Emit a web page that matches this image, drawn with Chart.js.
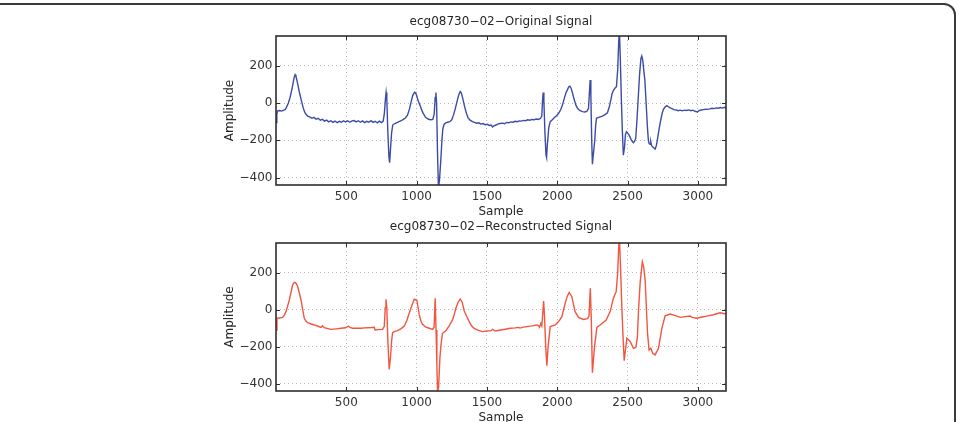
<!DOCTYPE html>
<html><head><meta charset="utf-8">
<script src="https://cdn.jsdelivr.net/npm/chart.js@4.4.0/dist/chart.umd.min.js"></script>
<style>
html,body{margin:0;padding:0;width:959px;height:422px;overflow:hidden;background:#fff;position:relative}
#frame{position:absolute;left:-20px;top:3px;width:976px;height:520px;border:2px solid #3a3a3a;border-radius:12px;box-sizing:border-box}
#c1{position:absolute;left:0;top:0}
#c2{position:absolute;left:0;top:200px}
</style></head><body>
<div id="frame"></div>
<canvas id="c1" width="959" height="222"></canvas>
<canvas id="c2" width="959" height="240"></canvas>
<script>
const titleTop = "ecg08730\u221202\u2212Original Signal";
const titleBottom = "ecg08730\u221202\u2212Reconstructed Signal";
const xTicks = [500, 1000, 1500, 2000, 2500, 3000];
const yTicks = [-400, -200, 0, 200];

const origX = [0,6,12,25,40,55,65,75,88,100,112,122,130,136,142,150,158,165,175,185,195,205,215,225,240,255,270,285,300,315,330,345,360,375,390,405,420,435,450,465,480,495,510,525,540,555,570,585,600,615,630,645,660,675,690,705,720,735,750,762,770,778,783,788,795,803,808,814,822,830,845,860,875,890,905,920,935,950,962,972,985,992,1000,1012,1026,1040,1050,1065,1085,1100,1115,1125,1132,1137,1142,1148,1155,1162,1172,1180,1186,1195,1205,1220,1235,1250,1262,1275,1288,1300,1310,1318,1328,1340,1352,1365,1380,1397,1412,1427,1442,1457,1472,1487,1502,1517,1530,1540,1550,1565,1580,1595,1610,1625,1640,1655,1670,1685,1700,1715,1730,1745,1760,1775,1790,1805,1820,1835,1850,1865,1880,1890,1896,1900,1905,1912,1920,1924,1930,1940,1950,1965,1980,1995,2010,2025,2037,2050,2062,2073,2082,2090,2098,2108,2120,2132,2144,2160,2179,2195,2210,2222,2229,2234,2239,2245,2250,2256,2267,2273,2279,2290,2305,2321,2340,2357,2370,2381,2390,2399,2410,2421,2430,2437,2442,2448,2456,2463,2470,2478,2485,2492,2500,2511,2525,2535,2542,2550,2558,2566,2575,2585,2595,2601,2608,2616,2623,2632,2641,2648,2653,2660,2665,2671,2677,2686,2696,2704,2712,2724,2736,2746,2755,2768,2779,2790,2800,2815,2830,2845,2860,2875,2890,2905,2920,2935,2950,2965,2980,2997,3010,3025,3040,3055,3068,3085,3100,3115,3130,3145,3160,3175,3190,3200];
const origY = [-105,-60,-42,-40,-43,-38,-35,-22,0,30,70,110,140,152,143,118,90,62,30,0,-30,-50,-62,-70,-74,-82,-77,-87,-82,-92,-87,-97,-92,-101,-95,-104,-97,-105,-98,-103,-95,-102,-95,-103,-96,-94,-101,-95,-103,-96,-105,-98,-103,-95,-104,-98,-106,-97,-105,-97,-60,20,57,20,-150,-290,-320,-250,-160,-118,-110,-105,-100,-95,-88,-80,-65,-30,10,40,58,55,40,10,-16,-45,-60,-78,-87,-90,-88,-60,30,57,0,-250,-450,-420,-306,-200,-140,-115,-108,-103,-100,-90,-65,-30,10,45,62,55,25,-15,-50,-78,-92,-100,-104,-108,-106,-113,-110,-116,-114,-120,-118,-128,-122,-118,-112,-110,-108,-111,-104,-106,-101,-103,-98,-100,-96,-97,-93,-95,-90,-92,-88,-90,-86,-88,-83,-70,20,56,10,-150,-280,-292,-220,-130,-100,-90,-78,-68,-55,-35,-11,25,55,72,88,91,80,55,20,-10,-28,-40,-46,-48,-45,-30,60,124,40,-200,-328,-280,-199,-120,-82,-78,-74,-70,-62,-52,-20,16,50,67,80,88,180,330,390,250,16,-150,-280,-240,-170,-154,-160,-172,-195,-208,-213,-205,-190,-100,16,150,240,253,230,170,124,0,-127,-200,-217,-222,-208,-228,-235,-240,-247,-230,-199,-140,-91,-55,-34,-20,-14,-20,-25,-30,-35,-37,-41,-38,-42,-38,-40,-37,-41,-38,-44,-48,-40,-37,-35,-33,-34,-31,-28,-30,-26,-28,-24,-27,-23,-25];

const recX = [0,7,30,47,60,71,83,95,107,118,127,135,145,154,166,178,190,201,213,225,250,272,300,320,331,343,370,391,430,462,495,514,530,545,575,604,630,651,680,699,704,730,758,770,777,782,788,796,805,814,822,829,845,864,890,912,930,947,965,983,1002,1018,1030,1042,1065,1090,1113,1124,1132,1138,1144,1149,1156,1166,1175,1184,1208,1230,1255,1268,1279,1295,1310,1324,1338,1355,1374,1390,1409,1440,1469,1500,1528,1540,1560,1599,1630,1665,1700,1724,1735,1760,1784,1820,1855,1868,1874,1883,1890,1897,1903,1909,1918,1926,1935,1950,1985,2010,2033,2056,2070,2085,2104,2115,2127,2151,2186,2215,2226,2235,2242,2250,2265,2282,2305,2348,2376,2399,2419,2430,2437,2442,2450,2459,2468,2476,2495,2519,2542,2559,2570,2578,2590,2605,2615,2625,2642,2653,2665,2679,2696,2720,2744,2767,2803,2840,2874,2910,2945,2960,2992,3030,3063,3110,3158,3200];
const recY = [-110,-47,-44,-42,-30,-11,20,52,95,133,145,147,140,125,90,52,0,-47,-62,-71,-78,-83,-90,-96,-87,-98,-103,-107,-104,-101,-98,-89,-98,-101,-101,-101,-99,-98,-97,-96,-110,-108,-107,-90,10,56,10,-180,-323,-260,-170,-125,-118,-114,-103,-89,-60,-20,20,56,50,-25,-60,-79,-95,-101,-107,-95,61,-110,-300,-450,-420,-255,-180,-128,-114,-90,-56,-25,7,40,57,40,-6,-35,-65,-88,-101,-112,-119,-116,-114,-107,-116,-110,-106,-101,-99,-96,-100,-95,-92,-88,-83,-88,-96,-74,-88,-20,46,-30,-200,-303,-200,-92,-83,-65,-38,34,70,93,70,30,-11,-42,-53,-49,-35,115,-50,-341,-200,-96,-83,-56,-11,61,97,200,340,390,230,16,-150,-276,-155,-173,-209,-204,-150,-2,150,258,230,160,-128,-218,-209,-236,-245,-209,-101,-34,-24,-33,-42,-38,-35,-42,-47,-40,-35,-28,-17,-24];

function ticksFrom(arr){ return s => { s.ticks = arr.map(v => ({value: v})); }; }
const fmt = v => String(v).replace('-', '\u2212');
const FONT = 'DejaVu Sans';

const boxPlugin = {
  id: 'mbox',
  afterDraw(chart) {
    const {ctx, chartArea: a, scales: {x, y}} = chart;
    ctx.save();
    ctx.strokeStyle = '#2e2e2e';
    ctx.lineWidth = 1;
    ctx.beginPath();
    x.ticks.forEach(t => {
      const p = Math.round(x.getPixelForValue(t.value)) + 0.5;
      ctx.moveTo(p, a.bottom); ctx.lineTo(p, a.bottom - 4);
      ctx.moveTo(p, a.top); ctx.lineTo(p, a.top + 4);
    });
    y.ticks.forEach(t => {
      const p = Math.round(y.getPixelForValue(t.value)) + 0.5;
      ctx.moveTo(a.left, p); ctx.lineTo(a.left + 4, p);
      ctx.moveTo(a.right, p); ctx.lineTo(a.right - 4, p);
    });
    ctx.stroke();
    ctx.lineWidth = 1.6;
    ctx.strokeRect(a.left, a.top, a.right - a.left, a.bottom - a.top);
    ctx.restore();
  }
};

function makeChart(id, xs, ys, color, title, tPad, canvasH, areaBottom, xTitlePad) {
  const pts = xs.map((v, i) => ({x: v, y: ys[i]}));
  return new Chart(document.getElementById(id), {
    type: 'line',
    data: { datasets: [{ data: pts, borderColor: color, borderWidth: 1.4, pointRadius: 0, tension: 0, fill: false }] },
    options: {
      responsive: false, animation: false, events: [],
      layout: { padding: { left: 222, right: 233, top: 0, bottom: 0 } },
      plugins: {
        legend: { display: false }, tooltip: { enabled: false },
        title: { display: true, text: title, fullSize: false, color: '#262626',
                 font: { family: FONT, size: 12, weight: 'normal', lineHeight: 1.2 },
                 padding: tPad }
      },
      scales: {
        x: {
          type: 'linear', min: 0, max: 3200,
          afterBuildTicks: ticksFrom(xTicks),
          afterFit: s => { s.height = canvasH - areaBottom; },
          grid: { color: '#b8b8b8', lineWidth: 1, drawTicks: false },
          border: { display: false, dash: [1, 3] },
          ticks: { callback: fmt, padding: 5, color: '#333', maxRotation: 0, autoSkip: false,
                   font: { family: FONT, size: 12, lineHeight: 1.2 } },
          title: { display: true, text: 'Sample', color: '#262626',
                   font: { family: FONT, size: 12, lineHeight: 1.2 }, padding: { top: 0, bottom: xTitlePad } }
        },
        y: {
          type: 'linear', min: -440, max: 360,
          afterBuildTicks: ticksFrom(yTicks),
          afterFit: s => { s.width = 54; },
          grid: { color: '#b8b8b8', lineWidth: 1, drawTicks: false },
          border: { display: false, dash: [1, 3] },
          ticks: { callback: fmt, padding: 3.5, color: '#333', autoSkip: false,
                   font: { family: FONT, size: 12, lineHeight: 1.2 } },
          title: { display: true, text: 'Amplitude', color: '#262626',
                   font: { family: FONT, size: 12, lineHeight: 1.2 }, padding: { top: 0.8, bottom: 0 } }
        }
      }
    },
    plugins: [boxPlugin]
  });
}

makeChart('c1', origX, origY, '#3c4ba6', titleTop, { top: 14.5, bottom: 7.1 }, 222, 185, 3.1);
makeChart('c2', recX, recY, '#f25540', titleBottom, { top: 19.5, bottom: 9.1 }, 240, 191, 14.5);
</script>
</body></html>
